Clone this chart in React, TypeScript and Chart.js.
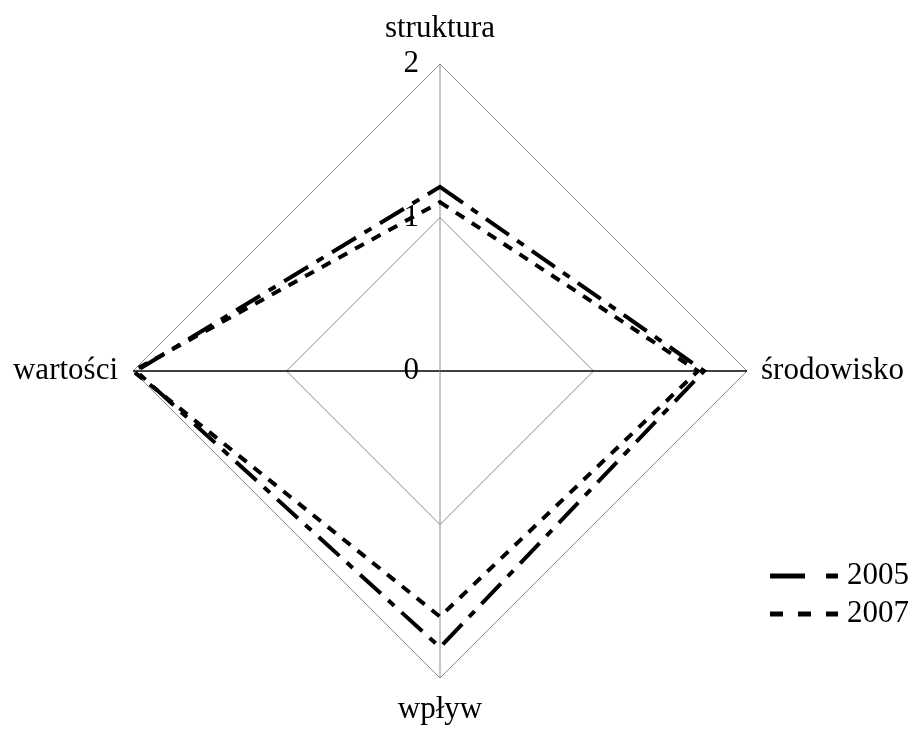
import React, { useEffect, useRef } from "react";
import { Chart, registerables } from "chart.js";

Chart.register(...registerables);

const categories = ["struktura", "środowisko", "wpływ", "wartości"];
const seriesLabels = ["2005", "2007"];
const values2005 = [1.2, 1.72, 1.8, 1.98];
const values2007 = [1.1, 1.68, 1.6, 2.0];
const scaleMin = 0;
const scaleMax = 2;
const scaleStep = 1;

const FONT = "'Liberation Serif', 'Times New Roman', serif";
const chartDashes = [
  [28, 10, 8, 10],
  [10, 9],
];
const legendDashes = [
  [35, 21, 12, 21],
  [13, 15],
];

// The canvas is wider than the window and shifted left by this much,
// so that the radar's wide point labels fit without shrinking it.
const SHIFT_X = 80;
const CANVAS_W = 1040;
const CANVAS_H = 729;

const tickPlugin = {
  id: "leftTicks",
  beforeDatasetsDraw(chart: any) {
    const scale = chart.scales.r;
    const ctx = chart.ctx;
    ctx.save();
    ctx.font = `31px ${FONT}`;
    ctx.fillStyle = "#000";
    ctx.textAlign = "right";
    ctx.textBaseline = "middle";
    scale.ticks.forEach((t: any) => {
      const d = scale.getDistanceFromCenterForValue(t.value);
      ctx.fillText(String(t.value), scale.xCenter - 21, scale.yCenter - d);
    });
    ctx.restore();
  },
};

const legendPlugin = {
  id: "cornerLegend",
  afterDraw(chart: any) {
    const ctx = chart.ctx;
    const x0 = 770 + SHIFT_X;
    const lineLen = 68;
    const top = 576;
    const step = 38;
    chart.data.datasets.forEach((ds: any, i: number) => {
      const y = top + i * step;
      ctx.save();
      ctx.strokeStyle = "#000";
      ctx.lineWidth = 5;
      ctx.lineCap = "butt";
      ctx.setLineDash(legendDashes[i]);
      ctx.beginPath();
      ctx.moveTo(x0, y);
      ctx.lineTo(x0 + lineLen, y);
      ctx.stroke();
      ctx.setLineDash([]);
      ctx.font = `31px ${FONT}`;
      ctx.fillStyle = "#000";
      ctx.textAlign = "left";
      ctx.textBaseline = "middle";
      ctx.fillText(ds.label, x0 + lineLen + 9, y);
      ctx.restore();
    });
  },
};

export default function App() {
  const ref = useRef<HTMLCanvasElement>(null);
  useEffect(() => {
    if (!ref.current) return;
    const chart = new Chart(ref.current, {
      type: "radar",
      data: {
        labels: categories,
        datasets: [
          {
            label: seriesLabels[0],
            data: values2005,
            borderColor: "#000",
            borderWidth: 4,
            borderDash: chartDashes[0],
            borderJoinStyle: "miter",
            borderCapStyle: "butt",
            fill: false,
            pointRadius: 0,
            tension: 0,
          },
          {
            label: seriesLabels[1],
            data: values2007,
            borderColor: "#000",
            borderWidth: 4,
            borderDash: chartDashes[1],
            borderJoinStyle: "miter",
            borderCapStyle: "butt",
            fill: false,
            pointRadius: 0,
            tension: 0,
          },
        ],
      },
      options: {
        animation: false,
        responsive: true,
        maintainAspectRatio: false,
        layout: { padding: { left: 0, right: 0, top: 11, bottom: 2 } },
        plugins: {
          legend: { display: false },
          tooltip: { enabled: false },
        },
        scales: {
          r: {
            min: scaleMin,
            max: scaleMax,
            ticks: { display: false, stepSize: scaleStep },
            grid: { color: "#8c8c8c", lineWidth: 1 },
            angleLines: {
              color: (c: any) => (c.index % 2 === 0 ? "#8c8c8c" : "#000"),
              lineWidth: (c: any) => (c.index % 2 === 0 ? 1 : 1.3),
            },
            pointLabels: {
              color: "#000",
              font: { family: FONT, size: 31, lineHeight: 1 },
              padding: (c: any) => [20, 14, 16, 15][c.index],
            },
          },
        },
      },
      plugins: [tickPlugin, legendPlugin],
    });
    return () => chart.destroy();
  }, []);
  return (
    <div
      style={{
        position: "fixed",
        left: -SHIFT_X,
        top: 0,
        width: CANVAS_W,
        height: CANVAS_H,
        background: "#fff",
      }}
    >
      <canvas ref={ref} />
    </div>
  );
}
